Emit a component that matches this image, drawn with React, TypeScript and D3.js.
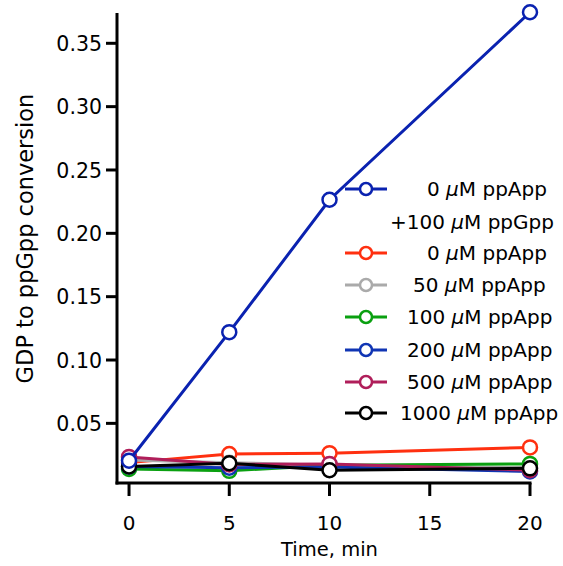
import React from "react";
import * as d3 from "d3";

const times = [0, 5, 10, 20];
const seriesNames = [
  "0 \u03BCM ppApp +100 \u03BCM ppGpp",
  "0 \u03BCM ppApp",
  "50 \u03BCM ppApp",
  "100 \u03BCM ppApp",
  "200 \u03BCM ppApp",
  "500 \u03BCM ppApp",
  "1000 \u03BCM ppApp",
];
const ppGppValues = [0.0205, 0.122, 0.2265, 0.3745];
const ppApp0 = [0.019, 0.0258, 0.0265, 0.031];
const ppApp50 = [0.021, 0.019, 0.017, 0.015];
const ppApp100 = [0.014, 0.0125, 0.017, 0.018];
const ppApp200 = [0.016, 0.015, 0.0155, 0.012];
const ppApp500 = [0.0235, 0.0175, 0.018, 0.013];
const ppApp1000 = [0.016, 0.0185, 0.013, 0.0145];
const xTicks = [0, 5, 10, 15, 20];
const yTicks = [0.05, 0.1, 0.15, 0.2, 0.25, 0.3, 0.35];

const colors = ["#0a22b0", "#ff3010", "#aaaaaa", "#0aa010", "#1035b4", "#b01e5a", "#000000"];

const FONT = "'DejaVu Sans', Verdana, sans-serif";

function Label({ text }: { text: string }) {
  const parts = text.split("\u03BC");
  return (
    <>
      {parts.map((p, i) => (
        <React.Fragment key={i}>
          {i > 0 && <tspan fontStyle="italic">{"\u03BC"}</tspan>}
          <tspan>{p}</tspan>
        </React.Fragment>
      ))}
    </>
  );
}

export default function App() {
  const W = 563, H = 566;
  const x = d3.scaleLinear().domain([-0.6, 20]).range([117, 530]);
  const y = d3.scaleLinear().domain([0, 0.35]).range([486.7, 43.3]);
  const yBottom = 483, yTop = 13;
  const line = d3.line<number>().x((_, i) => x(times[i])).y((v) => y(v));

  const drawOrder = [
    { vals: ppApp0, c: colors[1] },
    { vals: ppApp50, c: colors[2] },
    { vals: ppApp100, c: colors[3] },
    { vals: ppApp200, c: colors[4] },
    { vals: ppApp500, c: colors[5] },
    { vals: ppApp1000, c: colors[6] },
    { vals: ppGppValues, c: colors[0] },
  ];

  const legendRows = [
    { label: "0 \u03BCM ppApp", c: colors[0], y: 189, tx: 427, sym: true },
    { label: "+100 \u03BCM ppGpp", c: colors[0], y: 222, tx: 390, sym: false },
    { label: seriesNames[1], c: colors[1], y: 253, tx: 427, sym: true },
    { label: seriesNames[2], c: colors[2], y: 285, tx: 413, sym: true },
    { label: seriesNames[3], c: colors[3], y: 317, tx: 407, sym: true },
    { label: seriesNames[4], c: colors[4], y: 350, tx: 407, sym: true },
    { label: seriesNames[5], c: colors[5], y: 382, tx: 407, sym: true },
    { label: seriesNames[6], c: colors[6], y: 413, tx: 400, sym: true },
  ];

  return (
    <svg width={W} height={H} style={{ position: "absolute", left: 0, top: 0 }} fontFamily={FONT}>
      <rect width={W} height={H} fill="#fff" />
      <line x1={117} x2={117} y1={yTop} y2={yBottom + 1.5} stroke="#000" strokeWidth={3} />
      <line x1={115.5} x2={x(20) + 1.5} y1={yBottom} y2={yBottom} stroke="#000" strokeWidth={3} />
      {yTicks.map((t) => (
        <g key={t}>
          <line x1={106} x2={117} y1={y(t)} y2={y(t)} stroke="#000" strokeWidth={3} />
          <text x={102} y={y(t)} dy="0.37em" textAnchor="end" fontSize={20.5}>
            {t.toFixed(2)}
          </text>
        </g>
      ))}
      {xTicks.map((t) => (
        <g key={t}>
          <line x1={x(t)} x2={x(t)} y1={yBottom} y2={yBottom + 13} stroke="#000" strokeWidth={3} />
          <text x={x(t)} y={530} textAnchor="middle" fontSize={20}>
            {t}
          </text>
        </g>
      ))}
      <text x={x(10)} y={556} textAnchor="middle" fontSize={19.5}>
        Time, min
      </text>
      <text transform={`translate(33,238.5) rotate(-90)`} textAnchor="middle" fontSize={22.5}>
        GDP to ppGpp conversion
      </text>
      {drawOrder.map((s, k) => (
        <g key={k}>
          <path d={line(s.vals) || ""} fill="none" stroke={s.c} strokeWidth={3} />
          {s.vals.map((v, i) => (
            <circle key={i} cx={x(times[i])} cy={y(v)} r={7} fill="#fff" stroke={s.c} strokeWidth={2.5} />
          ))}
        </g>
      ))}
      {legendRows.map((r, i) => (
        <g key={i}>
          {r.sym && (
            <g>
              <line x1={345} x2={387} y1={r.y} y2={r.y} stroke={r.c} strokeWidth={3} />
              <circle cx={366} cy={r.y} r={6} fill="#fff" stroke={r.c} strokeWidth={2.5} />
            </g>
          )}
          <text x={r.tx} y={r.y} dy="0.36em" fontSize={20}>
            <Label text={r.label} />
          </text>
        </g>
      ))}
    </svg>
  );
}
